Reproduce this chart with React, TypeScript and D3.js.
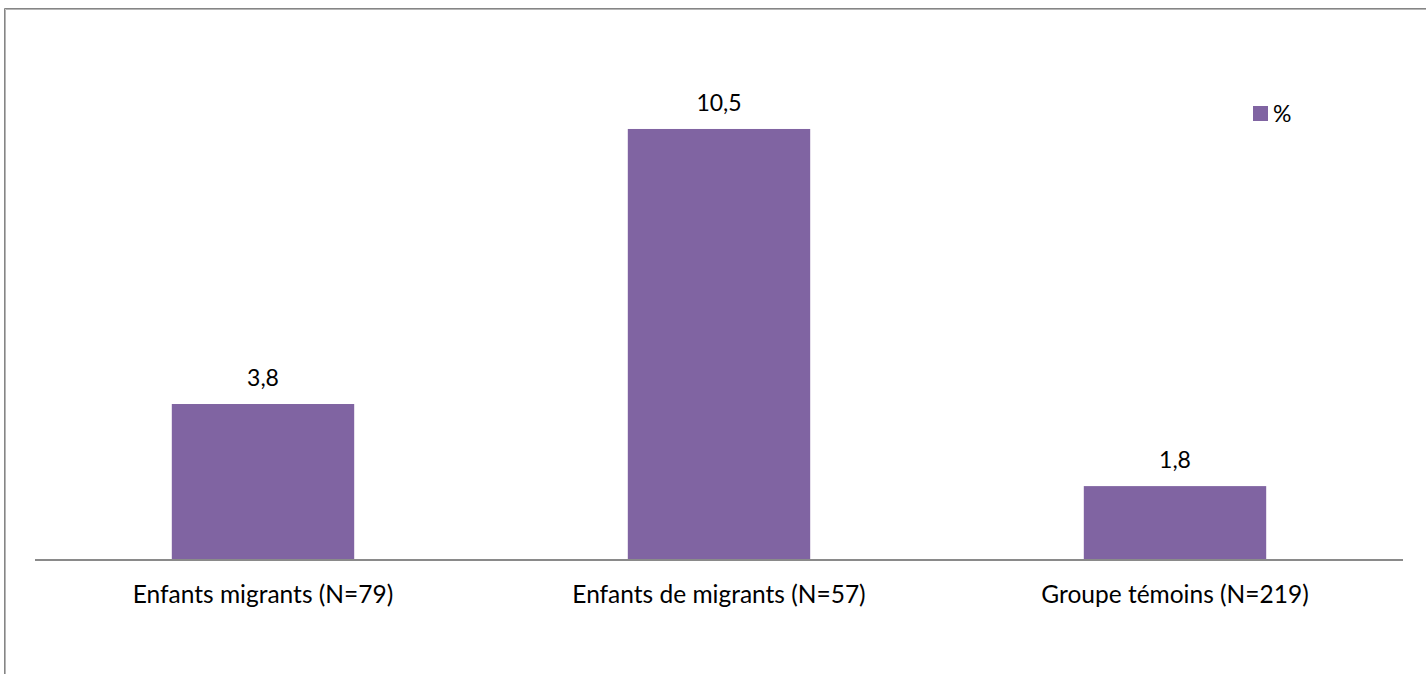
import React from "react";
import * as d3 from "d3";

const categories = ["Enfants migrants (N=79)", "Enfants de migrants (N=57)", "Groupe témoins (N=219)"];
const values = [3.8, 10.5, 1.8];
const valueLabels = ["3,8", "10,5", "1,8"];
const seriesName = "%";

const W = 1426;
const H = 674;
const FONT = "Lato, 'Open Sans', sans-serif";

export default function App() {
  const x = d3.scaleBand<string>().domain(categories).range([35, 1403]).padding(0);
  const y = d3.scaleLinear().domain([0, 12]).range([560, 67.4]);
  const bw = x.bandwidth();
  const barW = bw * 0.4;
  return (
    <svg width={W} height={H} style={{ position: "absolute", left: 0, top: 0, display: "block" }}>
      <rect x={0} y={0} width={W} height={H} fill="#ffffff" />
      <line x1={4.5} y1={8.5} x2={W + 10} y2={8.5} stroke="#858585" strokeWidth={1} />
      <line x1={5.5} y1={9.5} x2={W + 10} y2={9.5} stroke="#b5b5b5" strokeWidth={1} />
      <line x1={4.5} y1={8.5} x2={4.5} y2={H + 10} stroke="#858585" strokeWidth={1} />
      <line x1={5.5} y1={9.5} x2={5.5} y2={H + 10} stroke="#b5b5b5" strokeWidth={1} />
      {categories.map((c, i) => {
        const cx = (x(c) as number) + bw / 2;
        return (
          <g key={c}>
            <rect x={cx - barW / 2} y={y(values[i])} width={barW} height={y(0) - y(values[i])} fill="#8064A2" />
            <text x={cx} y={y(values[i]) - 18} textAnchor="middle" fontFamily={FONT} fontSize={23} fill="#000">
              {valueLabels[i]}
            </text>
            <text x={cx} y={603} textAnchor="middle" fontFamily={FONT} fontSize={24.5} fill="#000">
              {c}
            </text>
          </g>
        );
      })}
      <line x1={35} x2={1403} y1={y(0)} y2={y(0)} stroke="#8a8a8a" strokeWidth={2} />
      <rect x={1253} y={106} width={15} height={15} fill="#8064A2" />
      <text x={1273} y={122} fontFamily={FONT} fontSize={23} fill="#000">{seriesName}</text>
    </svg>
  );
}
